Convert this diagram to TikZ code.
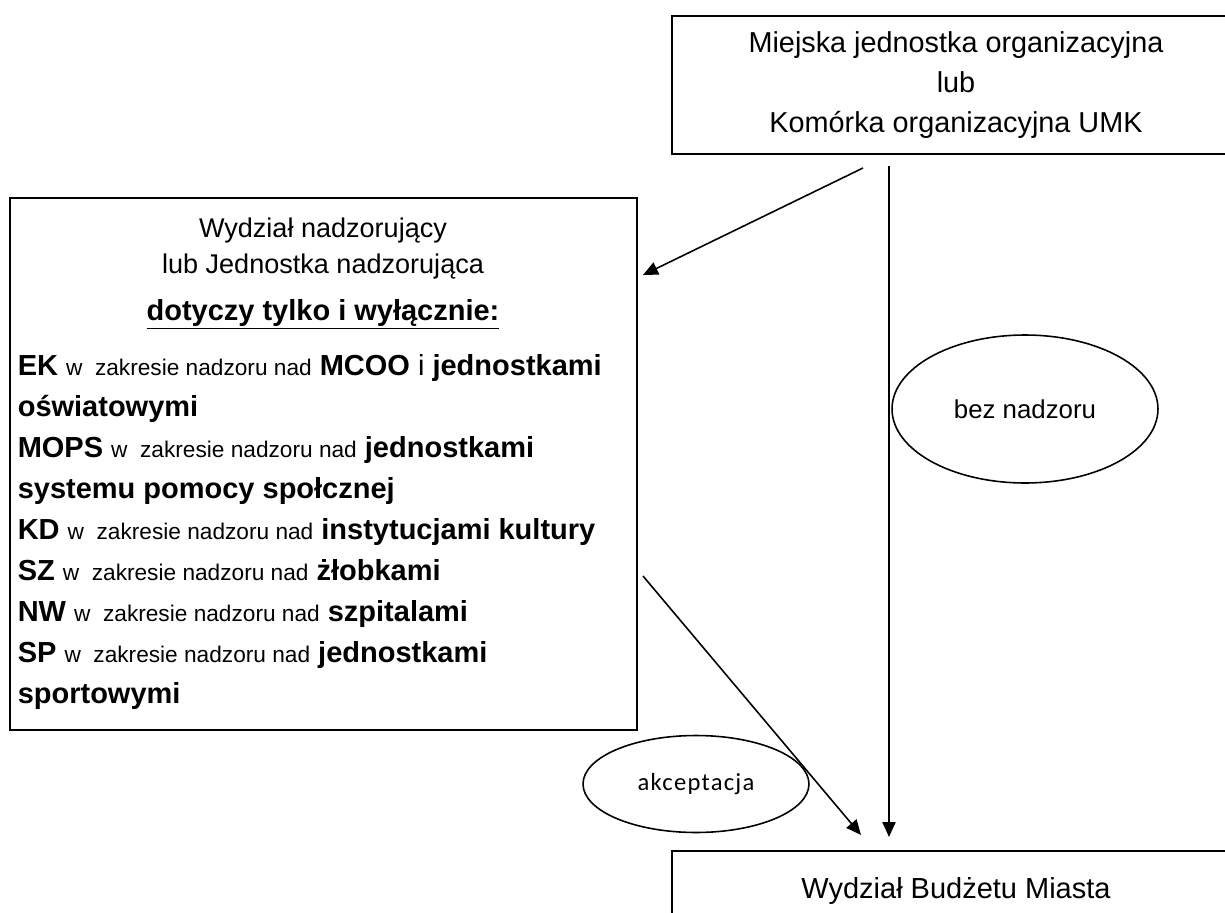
\documentclass[tikz,border=0pt]{standalone}
\usepackage{fontspec}
\setmainfont{Liberation Sans}
\newfontfamily\calibri[LetterSpace=5]{Carlito}
\usetikzlibrary{arrows.meta,shapes.geometric,positioning}
\newcommand{\duze}{\fontsize{16.5}{23}\selectfont}
\newcommand{\zakres}{{\fontsize{12.9}{15}\selectfont w\ \ zakresie nadzoru nad}}

\tikzset{
  box/.style={draw,line width=1.2pt,inner sep=0pt},
  oval/.style={draw,ellipse,line width=0.9pt,inner sep=0pt},
  >={Triangle[length=8.5pt,width=7.5pt]},
}

\begin{document}
\begin{tikzpicture}[x=0.02cm,y=-0.02cm,line width=0.9pt]
    \useasboundingbox (0,0) rectangle (1225,913);
    \node[box,minimum width=11.36cm,minimum height=2.76cm,align=center,
      font=\fontsize{16.4}{23}\selectfont] at (956,85) (umk)
      {Miejska jednostka organizacyjna\\lub\\Komórka organizacyjna UMK};
    \node[box,minimum width=12.54cm,minimum height=10.64cm] at (323.5,464) (nadzor) {};
    \node[anchor=base,font=\fontsize{15.4}{20}\selectfont] at (323,237) (nadzor1) {Wydział nadzorujący};
    \node[anchor=base,font=\fontsize{15.4}{20}\selectfont] at (323,273) (nadzor2) {lub Jednostka nadzorująca};
    \node[anchor=base,font=\bfseries\duze] at (323,320) (tylko) {\underline{dotyczy tylko i wyłącznie:}};
    \foreach \t [count=\i] in {
      {\textbf{EK} \zakres{} \textbf{MCOO} i \textbf{jednostkami}},
      {\textbf{oświatowymi}},
      {\textbf{MOPS} \zakres{} \textbf{jednostkami}},
      {\textbf{systemu pomocy społcznej}},
      {\textbf{KD} \zakres{} \textbf{instytucjami kultury}},
      {\textbf{SZ} \zakres{} \textbf{żłobkami}},
      {\textbf{NW} \zakres{} \textbf{szpitalami}},
      {\textbf{SP} \zakres{} \textbf{jednostkami}},
      {\textbf{sportowymi}}}
      \node[anchor=base west,font=\duze,inner sep=0pt] at (17,{375+41.1*(\i-1)}) (linia\i) {\t};
    \node[oval,minimum width=5.32cm,minimum height=2.96cm,
      font=\fontsize{14.7}{17}\selectfont] at (1025,409) (bez) {bez nadzoru};
    \node[oval,minimum width=4.52cm,minimum height=1.94cm,
      font=\calibri\fontsize{14}{17}\selectfont] at (696,784) (akc) {akceptacja};
    \node[box,minimum width=11.36cm,minimum height=1.6cm,font=\duze] at (956,891) (budzet)
      {Wydział Budżetu Miasta};
    \coordinate (p1) at (863,168);
    \coordinate (p2) at (889,166);
    \coordinate (p3) at (643,576);
    \draw[->] (p1) -- ([shift={(5,78)}]nadzor.north east);
    \draw[->,shorten >=0.26cm] (p2) -- (p2 |- budzet.north);
    \draw[->] (p3) -- ([shift={(190,-15)}]budzet.north west);
\end{tikzpicture}
\end{document}
